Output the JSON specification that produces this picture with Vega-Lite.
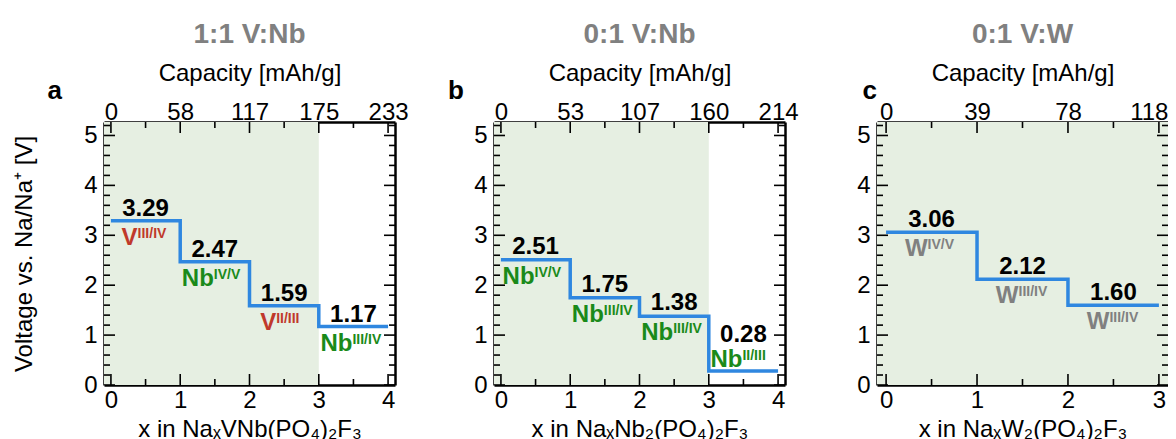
{
  "$schema": "https://vega.github.io/schema/vega-lite/v6.json",
  "padding": {"left": 12, "top": 21, "right": 0, "bottom": 0},
  "background": "white",
  "datasets": {
    "a": [
      {"x0": 0, "x1": 1, "v": 3.29, "ion": "V", "ox": "III/IV"},
      {"x0": 1, "x1": 2, "v": 2.47, "ion": "Nb", "ox": "IV/V"},
      {"x0": 2, "x1": 3, "v": 1.59, "ion": "V", "ox": "II/III"},
      {"x0": 3, "x1": 4, "v": 1.17, "ion": "Nb", "ox": "III/IV"}
    ],
    "b": [
      {"x0": 0, "x1": 1, "v": 2.51, "ion": "Nb", "ox": "IV/V"},
      {"x0": 1, "x1": 2, "v": 1.75, "ion": "Nb", "ox": "III/IV"},
      {"x0": 2, "x1": 3, "v": 1.38, "ion": "Nb", "ox": "III/IV"},
      {"x0": 3, "x1": 4, "v": 0.28, "ion": "Nb", "ox": "II/III"}
    ],
    "c": [
      {"x0": 0, "x1": 1, "v": 3.06, "ion": "W", "ox": "IV/V"},
      {"x0": 1, "x1": 2, "v": 2.12, "ion": "W", "ox": "III/IV"},
      {"x0": 2, "x1": 3, "v": 1.60, "ion": "W", "ox": "III/IV"}
    ],
    "xt4": [{"t": 0}, {"t": 0.5}, {"t": 1}, {"t": 1.5}, {"t": 2}, {"t": 2.5}, {"t": 3}, {"t": 3.5}, {"t": 4}],
    "xt3": [{"t": 0}, {"t": 0.5}, {"t": 1}, {"t": 1.5}, {"t": 2}, {"t": 2.5}, {"t": 3}],
    "yt": [{"t": 0}, {"t": 0.2}, {"t": 0.4}, {"t": 0.6}, {"t": 0.8}, {"t": 1}, {"t": 1.2}, {"t": 1.4}, {"t": 1.6}, {"t": 1.8}, {"t": 2}, {"t": 2.2}, {"t": 2.4}, {"t": 2.6}, {"t": 2.8}, {"t": 3}, {"t": 3.2}, {"t": 3.4}, {"t": 3.6}, {"t": 3.8}, {"t": 4}, {"t": 4.2}, {"t": 4.4}, {"t": 4.6}, {"t": 4.8}, {"t": 5}, {"t": 5.2}]
  },
  "spacing": 57,
  "hconcat": [
    {
      "spacing": 38,
      "hconcat": [
        {
          "width": 291, "height": 263,
          "title": {"text": "1:1 V:Nb"},
          "data": {"name": "a"},
          "layer": [
            {
              "data": {"values": [{"from": -0.1, "to": 3}]},
              "mark": {"type": "rect", "color": "#e6efe2"},
              "encoding": {
                "x": {"field": "from", "type": "quantitative", "scale": {"domain": [-0.1, 4.1], "nice": false, "zero": false},
                  "axis": {"orient": "top", "values": [0, 1, 2, 3, 4], "labelExpr": "datum.value === 0 ? '0' : datum.value === 1 ? '58' : datum.value === 2 ? '117' : datum.value === 3 ? '175' : '233'", "title": "Capacity [mAh/g]", "labelBaseline": "alphabetic", "labelPadding": 3, "titlePadding": 15}},
                "x2": {"field": "to"},
                "y": {"datum": 0, "type": "quantitative", "scale": {"domain": [0, 5.27], "nice": false, "zero": false},
                  "axis": {"orient": "right", "values": [0, 1, 2, 3, 4, 5], "labels": false, "title": null}},
                "y2": {"datum": 5.27}
              }
            },
            {"data": {"name": "xt4"}, "mark": {"type": "tick", "orient": "vertical", "thickness": 1.6, "color": "black", "opacity": 1, "clip": true},
             "encoding": {"x": {"field": "t", "type": "quantitative", "axis": null}, "y": {"datum": 0, "type": "quantitative", "axis": null}, "size": {"condition": {"test": "datum.t % 1 === 0", "value": 22}, "value": 12}}},
            {"data": {"name": "xt4"}, "mark": {"type": "tick", "orient": "vertical", "thickness": 1.6, "color": "black", "opacity": 1, "clip": true},
             "encoding": {"x": {"field": "t", "type": "quantitative", "axis": null}, "y": {"datum": 5.27, "type": "quantitative", "axis": null}, "size": {"condition": {"test": "datum.t % 1 === 0", "value": 22}, "value": 12}}},
            {"data": {"name": "yt"}, "mark": {"type": "tick", "orient": "horizontal", "thickness": 1.6, "color": "black", "opacity": 1, "clip": true},
             "encoding": {"y": {"field": "t", "type": "quantitative", "axis": null}, "x": {"datum": -0.1, "type": "quantitative", "axis": null}, "size": {"condition": {"test": "datum.t % 1 === 0", "value": 22}, "value": 12}}},
            {"data": {"name": "yt"}, "mark": {"type": "tick", "orient": "horizontal", "thickness": 1.6, "color": "black", "opacity": 1, "clip": true},
             "encoding": {"y": {"field": "t", "type": "quantitative", "axis": null}, "x": {"datum": 4.1, "type": "quantitative", "axis": null}, "size": {"condition": {"test": "datum.t % 1 === 0", "value": 22}, "value": 12}}},
            {
              "transform": [{"fold": ["x0", "x1"]}, {"calculate": "datum.x0 + (datum.key === 'x1' ? 0.5 : 0)", "as": "ord"}],
              "mark": {"type": "line", "color": "#2f87e0", "strokeWidth": 3.5},
              "encoding": {
                "x": {"field": "value", "type": "quantitative",
                  "axis": {"orient": "bottom", "values": [0, 1, 2, 3, 4], "format": "d", "title": "x in NaₓVNb(PO₄)₂F₃", "labelBaseline": "alphabetic", "labelPadding": 22, "titlePadding": 5}},
                "y": {"field": "v", "type": "quantitative",
                  "axis": {"orient": "left", "values": [0, 1, 2, 3, 4, 5], "format": "d", "title": "Voltage vs. Na/Na⁺ [V]", "labelPadding": 7, "titlePadding": 47}},
                "order": {"field": "ord", "type": "quantitative"}
              }
            },
            {
              "transform": [{"calculate": "(datum.x0 + datum.x1) / 2", "as": "mid"}],
              "mark": {"type": "text", "fontSize": 24, "fontWeight": "bold", "baseline": "alphabetic", "dy": -5, "color": "black"},
              "encoding": {
                "x": {"field": "mid", "type": "quantitative", "axis": null},
                "y": {"field": "v", "type": "quantitative", "axis": null},
                "text": {"field": "v", "type": "quantitative", "format": ".2f"}
              }
            },
            {
              "transform": [{"calculate": "(datum.x0 + datum.x1) / 2", "as": "mid"}],
              "mark": {"type": "text", "fontSize": 24, "fontWeight": "bold", "baseline": "alphabetic", "align": "right", "dy": 24, "dx": {"expr": "datum.ion === 'V' ? -8 : datum.ion === 'W' ? -4 : -1"}},
              "encoding": {
                "x": {"field": "mid", "type": "quantitative", "axis": null},
                "y": {"field": "v", "type": "quantitative", "axis": null},
                "text": {"field": "ion"},
                "color": {"field": "ion", "type": "nominal", "scale": {"domain": ["V", "Nb", "W"], "range": ["#c0392b", "#1a8a1a", "#808080"]}, "legend": null}
              }
            },
            {
              "transform": [{"calculate": "(datum.x0 + datum.x1) / 2", "as": "mid"}],
              "mark": {"type": "text", "fontSize": 14, "fontWeight": "bold", "baseline": "alphabetic", "align": "left", "dy": 17, "dx": {"expr": "datum.ion === 'V' ? -8 : datum.ion === 'W' ? -4 : -1"}},
              "encoding": {
                "x": {"field": "mid", "type": "quantitative", "axis": null},
                "y": {"field": "v", "type": "quantitative", "axis": null},
                "text": {"field": "ox"},
                "color": {"field": "ion", "type": "nominal", "scale": {"domain": ["V", "Nb", "W"], "range": ["#c0392b", "#1a8a1a", "#808080"]}, "legend": null}
              }
            },
            {
              "data": {"values": [{"letter": "a"}]},
              "mark": {"type": "text", "fontSize": 26, "fontWeight": "bold", "baseline": "alphabetic", "color": "black"},
              "encoding": {
                "x": {"datum": -0.81, "type": "quantitative", "axis": null},
                "y": {"datum": 5.73, "type": "quantitative", "axis": null},
                "text": {"field": "letter"}
              }
            }
          ]
        },
        {
          "width": 291, "height": 263,
          "title": {"text": "0:1 V:Nb"},
          "data": {"name": "b"},
          "layer": [
            {
              "data": {"values": [{"from": -0.1, "to": 3}]},
              "mark": {"type": "rect", "color": "#e6efe2"},
              "encoding": {
                "x": {"field": "from", "type": "quantitative", "scale": {"domain": [-0.1, 4.1], "nice": false, "zero": false},
                  "axis": {"orient": "top", "values": [0, 1, 2, 3, 4], "labelExpr": "datum.value === 0 ? '0' : datum.value === 1 ? '53' : datum.value === 2 ? '107' : datum.value === 3 ? '160' : '214'", "title": "Capacity [mAh/g]", "labelBaseline": "alphabetic", "labelPadding": 3, "titlePadding": 15}},
                "x2": {"field": "to"},
                "y": {"datum": 0, "type": "quantitative", "scale": {"domain": [0, 5.27], "nice": false, "zero": false},
                  "axis": {"orient": "right", "values": [0, 1, 2, 3, 4, 5], "labels": false, "title": null}},
                "y2": {"datum": 5.27}
              }
            },
            {"data": {"name": "xt4"}, "mark": {"type": "tick", "orient": "vertical", "thickness": 1.6, "color": "black", "opacity": 1, "clip": true},
             "encoding": {"x": {"field": "t", "type": "quantitative", "axis": null}, "y": {"datum": 0, "type": "quantitative", "axis": null}, "size": {"condition": {"test": "datum.t % 1 === 0", "value": 22}, "value": 12}}},
            {"data": {"name": "xt4"}, "mark": {"type": "tick", "orient": "vertical", "thickness": 1.6, "color": "black", "opacity": 1, "clip": true},
             "encoding": {"x": {"field": "t", "type": "quantitative", "axis": null}, "y": {"datum": 5.27, "type": "quantitative", "axis": null}, "size": {"condition": {"test": "datum.t % 1 === 0", "value": 22}, "value": 12}}},
            {"data": {"name": "yt"}, "mark": {"type": "tick", "orient": "horizontal", "thickness": 1.6, "color": "black", "opacity": 1, "clip": true},
             "encoding": {"y": {"field": "t", "type": "quantitative", "axis": null}, "x": {"datum": -0.1, "type": "quantitative", "axis": null}, "size": {"condition": {"test": "datum.t % 1 === 0", "value": 22}, "value": 12}}},
            {"data": {"name": "yt"}, "mark": {"type": "tick", "orient": "horizontal", "thickness": 1.6, "color": "black", "opacity": 1, "clip": true},
             "encoding": {"y": {"field": "t", "type": "quantitative", "axis": null}, "x": {"datum": 4.1, "type": "quantitative", "axis": null}, "size": {"condition": {"test": "datum.t % 1 === 0", "value": 22}, "value": 12}}},
            {
              "transform": [{"fold": ["x0", "x1"]}, {"calculate": "datum.x0 + (datum.key === 'x1' ? 0.5 : 0)", "as": "ord"}],
              "mark": {"type": "line", "color": "#2f87e0", "strokeWidth": 3.5},
              "encoding": {
                "x": {"field": "value", "type": "quantitative",
                  "axis": {"orient": "bottom", "values": [0, 1, 2, 3, 4], "format": "d", "title": "x in NaₓNb₂(PO₄)₂F₃", "labelBaseline": "alphabetic", "labelPadding": 22, "titlePadding": 5}},
                "y": {"field": "v", "type": "quantitative",
                  "axis": {"orient": "left", "values": [0, 1, 2, 3, 4, 5], "format": "d", "title": null, "labelPadding": 7}},
                "order": {"field": "ord", "type": "quantitative"}
              }
            },
            {
              "transform": [{"calculate": "(datum.x0 + datum.x1) / 2", "as": "mid"}, {"filter": "datum.v >= 0.5"}],
              "mark": {"type": "text", "fontSize": 24, "fontWeight": "bold", "baseline": "alphabetic", "dy": -6, "color": "black"},
              "encoding": {
                "x": {"field": "mid", "type": "quantitative", "axis": null},
                "y": {"field": "v", "type": "quantitative", "axis": null},
                "text": {"field": "v", "type": "quantitative", "format": ".2f"}
              }
            },
            {
              "transform": [{"calculate": "(datum.x0 + datum.x1) / 2", "as": "mid"}, {"filter": "datum.v < 0.5"}],
              "mark": {"type": "text", "fontSize": 24, "fontWeight": "bold", "baseline": "alphabetic", "dy": -29, "color": "black"},
              "encoding": {
                "x": {"field": "mid", "type": "quantitative", "axis": null},
                "y": {"field": "v", "type": "quantitative", "axis": null},
                "text": {"field": "v", "type": "quantitative", "format": ".2f"}
              }
            },
            {
              "transform": [{"calculate": "(datum.x0 + datum.x1) / 2", "as": "mid"}, {"filter": "datum.v >= 0.5"}],
              "mark": {"type": "text", "fontSize": 24, "fontWeight": "bold", "baseline": "alphabetic", "align": "right", "dy": 24, "dx": -1},
              "encoding": {
                "x": {"field": "mid", "type": "quantitative", "axis": null},
                "y": {"field": "v", "type": "quantitative", "axis": null},
                "text": {"field": "ion"},
                "color": {"field": "ion", "type": "nominal", "scale": {"domain": ["V", "Nb", "W"], "range": ["#c0392b", "#1a8a1a", "#808080"]}, "legend": null}
              }
            },
            {
              "transform": [{"calculate": "(datum.x0 + datum.x1) / 2", "as": "mid"}, {"filter": "datum.v >= 0.5"}],
              "mark": {"type": "text", "fontSize": 14, "fontWeight": "bold", "baseline": "alphabetic", "align": "left", "dy": 17, "dx": -1},
              "encoding": {
                "x": {"field": "mid", "type": "quantitative", "axis": null},
                "y": {"field": "v", "type": "quantitative", "axis": null},
                "text": {"field": "ox"},
                "color": {"field": "ion", "type": "nominal", "scale": {"domain": ["V", "Nb", "W"], "range": ["#c0392b", "#1a8a1a", "#808080"]}, "legend": null}
              }
            },
            {
              "transform": [{"calculate": "(datum.x0 + datum.x1) / 2", "as": "mid"}, {"filter": "datum.v < 0.5"}],
              "mark": {"type": "text", "fontSize": 24, "fontWeight": "bold", "baseline": "alphabetic", "align": "right", "dy": -4, "dx": -1},
              "encoding": {
                "x": {"field": "mid", "type": "quantitative", "axis": null},
                "y": {"field": "v", "type": "quantitative", "axis": null},
                "text": {"field": "ion"},
                "color": {"field": "ion", "type": "nominal", "scale": {"domain": ["V", "Nb", "W"], "range": ["#c0392b", "#1a8a1a", "#808080"]}, "legend": null}
              }
            },
            {
              "transform": [{"calculate": "(datum.x0 + datum.x1) / 2", "as": "mid"}, {"filter": "datum.v < 0.5"}],
              "mark": {"type": "text", "fontSize": 14, "fontWeight": "bold", "baseline": "alphabetic", "align": "left", "dy": -11, "dx": -1},
              "encoding": {
                "x": {"field": "mid", "type": "quantitative", "axis": null},
                "y": {"field": "v", "type": "quantitative", "axis": null},
                "text": {"field": "ox"},
                "color": {"field": "ion", "type": "nominal", "scale": {"domain": ["V", "Nb", "W"], "range": ["#c0392b", "#1a8a1a", "#808080"]}, "legend": null}
              }
            },
            {
              "data": {"values": [{"letter": "b"}]},
              "mark": {"type": "text", "fontSize": 26, "fontWeight": "bold", "baseline": "alphabetic", "color": "black"},
              "encoding": {
                "x": {"datum": -0.65, "type": "quantitative", "axis": null},
                "y": {"datum": 5.73, "type": "quantitative", "axis": null},
                "text": {"field": "letter"}
              }
            }
          ]
        }
      ]
    },
    {
      "width": 291, "height": 263,
      "title": {"text": "0:1 V:W"},
      "data": {"name": "c"},
      "layer": [
        {
          "data": {"values": [{"from": -0.1, "to": 3.1}]},
          "mark": {"type": "rect", "color": "#e6efe2"},
          "encoding": {
            "x": {"field": "from", "type": "quantitative", "scale": {"domain": [-0.1, 3.1], "nice": false, "zero": false},
              "axis": {"orient": "top", "values": [0, 1, 2, 3], "labelExpr": "datum.value === 0 ? '0' : datum.value === 1 ? '39' : datum.value === 2 ? '78' : '118'", "title": "Capacity [mAh/g]", "labelBaseline": "alphabetic", "labelPadding": 3, "titlePadding": 15, "labelAlign": {"condition": {"test": "datum.value === 3", "value": "right"}, "value": "center"}, "labelOffset": {"condition": {"test": "datum.value === 3", "value": 9}, "value": 0}}},
            "x2": {"field": "to"},
            "y": {"datum": 0, "type": "quantitative", "scale": {"domain": [0, 5.27], "nice": false, "zero": false},
              "axis": {"orient": "right", "values": [0, 1, 2, 3, 4, 5], "labels": false, "title": null}},
            "y2": {"datum": 5.27}
          }
        },
        {"data": {"name": "xt3"}, "mark": {"type": "tick", "orient": "vertical", "thickness": 1.6, "color": "black", "opacity": 1, "clip": true},
         "encoding": {"x": {"field": "t", "type": "quantitative", "axis": null}, "y": {"datum": 0, "type": "quantitative", "axis": null}, "size": {"condition": {"test": "datum.t % 1 === 0", "value": 22}, "value": 12}}},
        {"data": {"name": "xt3"}, "mark": {"type": "tick", "orient": "vertical", "thickness": 1.6, "color": "black", "opacity": 1, "clip": true},
         "encoding": {"x": {"field": "t", "type": "quantitative", "axis": null}, "y": {"datum": 5.27, "type": "quantitative", "axis": null}, "size": {"condition": {"test": "datum.t % 1 === 0", "value": 22}, "value": 12}}},
        {"data": {"name": "yt"}, "mark": {"type": "tick", "orient": "horizontal", "thickness": 1.6, "color": "black", "opacity": 1, "clip": true},
         "encoding": {"y": {"field": "t", "type": "quantitative", "axis": null}, "x": {"datum": -0.1, "type": "quantitative", "axis": null}, "size": {"condition": {"test": "datum.t % 1 === 0", "value": 22}, "value": 12}}},
        {"data": {"name": "yt"}, "mark": {"type": "tick", "orient": "horizontal", "thickness": 1.6, "color": "black", "opacity": 1, "clip": true},
         "encoding": {"y": {"field": "t", "type": "quantitative", "axis": null}, "x": {"datum": 3.1, "type": "quantitative", "axis": null}, "size": {"condition": {"test": "datum.t % 1 === 0", "value": 22}, "value": 12}}},
        {
          "transform": [{"fold": ["x0", "x1"]}, {"calculate": "datum.x0 + (datum.key === 'x1' ? 0.5 : 0)", "as": "ord"}],
          "mark": {"type": "line", "color": "#2f87e0", "strokeWidth": 3.5},
          "encoding": {
            "x": {"field": "value", "type": "quantitative",
              "axis": {"orient": "bottom", "values": [0, 1, 2, 3], "format": "d", "title": "x in NaₓW₂(PO₄)₂F₃", "labelBaseline": "alphabetic", "labelPadding": 22, "titlePadding": 5}},
            "y": {"field": "v", "type": "quantitative",
              "axis": {"orient": "left", "values": [0, 1, 2, 3, 4, 5], "format": "d", "title": null, "labelPadding": 7}},
            "order": {"field": "ord", "type": "quantitative"}
          }
        },
        {
          "transform": [{"calculate": "(datum.x0 + datum.x1) / 2", "as": "mid"}],
          "mark": {"type": "text", "fontSize": 24, "fontWeight": "bold", "baseline": "alphabetic", "dy": -5, "color": "black"},
          "encoding": {
            "x": {"field": "mid", "type": "quantitative", "axis": null},
            "y": {"field": "v", "type": "quantitative", "axis": null},
            "text": {"field": "v", "type": "quantitative", "format": ".2f"}
          }
        },
        {
          "transform": [{"calculate": "(datum.x0 + datum.x1) / 2", "as": "mid"}],
          "mark": {"type": "text", "fontSize": 24, "fontWeight": "bold", "baseline": "alphabetic", "align": "right", "dy": 24, "dx": -4},
          "encoding": {
            "x": {"field": "mid", "type": "quantitative", "axis": null},
            "y": {"field": "v", "type": "quantitative", "axis": null},
            "text": {"field": "ion"},
            "color": {"field": "ion", "type": "nominal", "scale": {"domain": ["V", "Nb", "W"], "range": ["#c0392b", "#1a8a1a", "#808080"]}, "legend": null}
          }
        },
        {
          "transform": [{"calculate": "(datum.x0 + datum.x1) / 2", "as": "mid"}],
          "mark": {"type": "text", "fontSize": 14, "fontWeight": "bold", "baseline": "alphabetic", "align": "left", "dy": 17, "dx": -4},
          "encoding": {
            "x": {"field": "mid", "type": "quantitative", "axis": null},
            "y": {"field": "v", "type": "quantitative", "axis": null},
            "text": {"field": "ox"},
            "color": {"field": "ion", "type": "nominal", "scale": {"domain": ["V", "Nb", "W"], "range": ["#c0392b", "#1a8a1a", "#808080"]}, "legend": null}
          }
        },
        {
          "data": {"values": [{"letter": "c"}]},
          "mark": {"type": "text", "fontSize": 26, "fontWeight": "bold", "baseline": "alphabetic", "color": "black"},
          "encoding": {
            "x": {"datum": -0.18, "type": "quantitative", "axis": null},
            "y": {"datum": 5.73, "type": "quantitative", "axis": null},
            "text": {"field": "letter"}
          }
        }
      ]
    }
  ],
  "config": {
    "view": {"stroke": null},
    "axis": {"domain": true, "domainColor": "black", "domainWidth": 2.5, "ticks": false, "grid": false, "labelFont": "Liberation Sans", "labelFontSize": 24, "labelColor": "black", "titleFont": "Liberation Sans", "titleFontSize": 24, "titleFontWeight": "normal", "titleColor": "black", "labelFlush": false, "labelOverlap": false, "zindex": 1},
    "title": {"font": "Liberation Sans", "fontSize": 28, "fontWeight": "bold", "color": "#808080", "offset": 12},
    "text": {"font": "Liberation Sans"}
  }
}
